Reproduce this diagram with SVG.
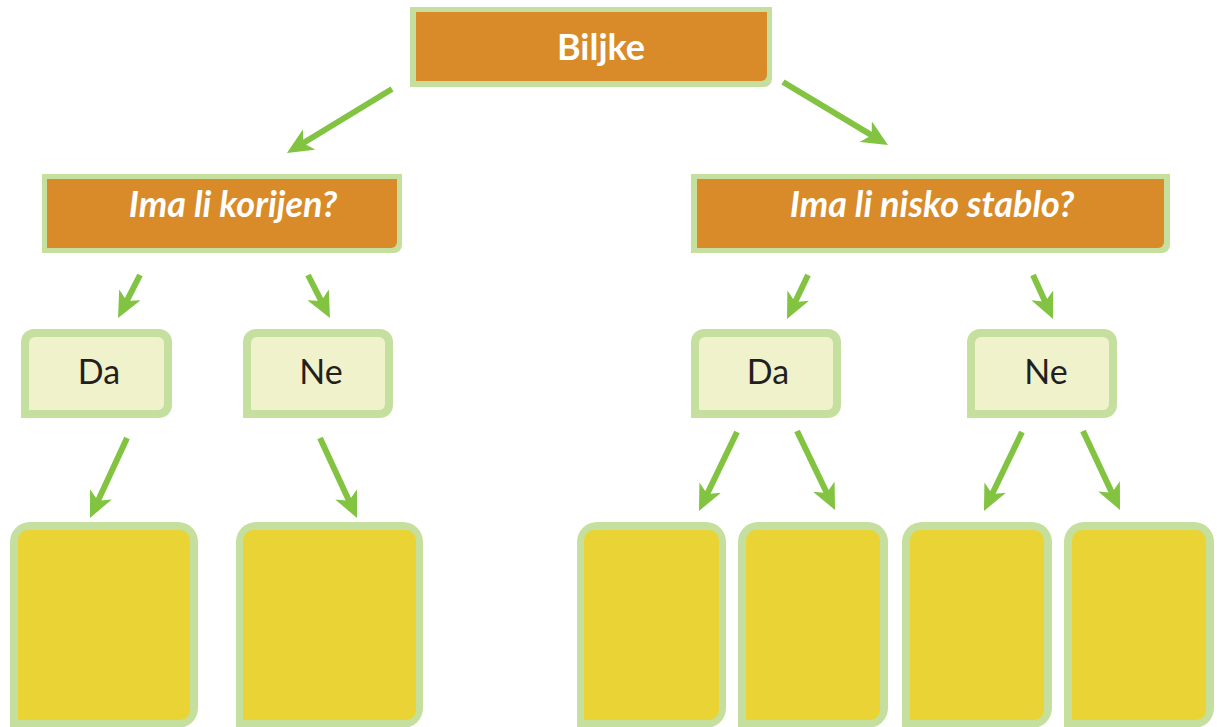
<svg xmlns="http://www.w3.org/2000/svg" width="1217" height="727" viewBox="0 0 1217 727">
<style>
.bd{fill:#c5e09e}
.or{fill:#d88b28}
.pa{fill:#f0f2cb}
.ye{fill:#e9d335}
.tq{font-family:Lato,"Open Sans",sans-serif;font-weight:bold;font-size:36px;fill:#ffffff;text-anchor:middle}
.ta{font-family:Lato,"Open Sans",sans-serif;font-size:34px;fill:#231f20;text-anchor:middle}
.ar{stroke:#82c341;stroke-width:6;fill:none;marker-end:url(#ah)}
</style>
<defs>
<marker id="ah" markerUnits="userSpaceOnUse" markerWidth="26" markerHeight="24" viewBox="0 0 26 24" refX="16" refY="12" orient="auto">
<path d="M0,0 L26,12 L0,24 L7,12 Z" fill="#82c341"/>
</marker>
</defs>
<rect width="1217" height="727" fill="#ffffff"/>
<g id="biljke">
<path class="bd" d="M410,7 H772 V79 A8,8 0 0 1 764,87 H410 Z"/>
<path class="or" d="M416,12 H767 V75 A6,6 0 0 1 761,81 H416 Z"/>
<text class="tq" x="601" y="60">Biljke</text>
</g>
<g id="q-korijen">
<path class="bd" d="M42,174 H402 V245 A8,8 0 0 1 394,253 H42 Z"/>
<path class="or" d="M47,179 H397 V242 A6,6 0 0 1 391,248 H47 Z"/>
<text class="tq" x="233" y="217" font-style="italic">Ima li korijen?</text>
</g>
<g id="q-stablo">
<path class="bd" d="M691,174 H1170 V245 A8,8 0 0 1 1162,253 H691 Z"/>
<path class="or" d="M697,179 H1164 V242 A6,6 0 0 1 1158,248 H697 Z"/>
<text class="tq" x="932" y="217" font-style="italic">Ima li nisko stablo?</text>
</g>
<g id="l-da">
<path class="bd" d="M21,342 A13,13 0 0 1 34,329 H159 A13,13 0 0 1 172,342 V405 A13,13 0 0 1 159,418 H21 Z"/>
<path class="pa" d="M29,343 A6,6 0 0 1 35,337 H158 A6,6 0 0 1 164,343 V404 A6,6 0 0 1 158,410 H29 Z"/>
<text class="ta" x="99" y="384">Da</text>
</g>
<g id="l-ne">
<path class="bd" d="M243,342 A13,13 0 0 1 256,329 H380 A13,13 0 0 1 393,342 V405 A13,13 0 0 1 380,418 H243 Z"/>
<path class="pa" d="M251,343 A6,6 0 0 1 257,337 H379 A6,6 0 0 1 385,343 V404 A6,6 0 0 1 379,410 H251 Z"/>
<text class="ta" x="321" y="384">Ne</text>
</g>
<g id="r-da">
<path class="bd" d="M691,342 A13,13 0 0 1 704,329 H828 A13,13 0 0 1 841,342 V405 A13,13 0 0 1 828,418 H691 Z"/>
<path class="pa" d="M699,343 A6,6 0 0 1 705,337 H827 A6,6 0 0 1 833,343 V404 A6,6 0 0 1 827,410 H699 Z"/>
<text class="ta" x="768" y="384">Da</text>
</g>
<g id="r-ne">
<path class="bd" d="M967,342 A13,13 0 0 1 980,329 H1104 A13,13 0 0 1 1117,342 V405 A13,13 0 0 1 1104,418 H967 Z"/>
<path class="pa" d="M975,343 A6,6 0 0 1 981,337 H1103 A6,6 0 0 1 1109,343 V404 A6,6 0 0 1 1103,410 H975 Z"/>
<text class="ta" x="1046" y="384">Ne</text>
</g>
<g id="y1">
<path class="bd" d="M10,542 A20,20 0 0 1 30,522 H178 A20,20 0 0 1 198,542 V708 A20,20 0 0 1 178,728 H10 Z"/>
<path class="ye" d="M18,540 A10,10 0 0 1 28,530 H180 A10,10 0 0 1 190,540 V710 A10,10 0 0 1 180,720 H18 Z"/>
</g>
<g id="y2">
<path class="bd" d="M236,542 A20,20 0 0 1 256,522 H403 A20,20 0 0 1 423,542 V708 A20,20 0 0 1 403,728 H236 Z"/>
<path class="ye" d="M243,540 A10,10 0 0 1 253,530 H406 A10,10 0 0 1 416,540 V710 A10,10 0 0 1 406,720 H243 Z"/>
</g>
<g id="y3">
<path class="bd" d="M577,542 A20,20 0 0 1 597,522 H706 A20,20 0 0 1 726,542 V708 A20,20 0 0 1 706,728 H577 Z"/>
<path class="ye" d="M584,540 A10,10 0 0 1 594,530 H709 A10,10 0 0 1 719,540 V710 A10,10 0 0 1 709,720 H584 Z"/>
</g>
<g id="y4">
<path class="bd" d="M738,542 A20,20 0 0 1 758,522 H868 A20,20 0 0 1 888,542 V708 A20,20 0 0 1 868,728 H738 Z"/>
<path class="ye" d="M746,540 A10,10 0 0 1 756,530 H870 A10,10 0 0 1 880,540 V710 A10,10 0 0 1 870,720 H746 Z"/>
</g>
<g id="y5">
<path class="bd" d="M902,542 A20,20 0 0 1 922,522 H1032 A20,20 0 0 1 1052,542 V708 A20,20 0 0 1 1032,728 H902 Z"/>
<path class="ye" d="M910,540 A10,10 0 0 1 920,530 H1034 A10,10 0 0 1 1044,540 V710 A10,10 0 0 1 1034,720 H910 Z"/>
</g>
<g id="y6">
<path class="bd" d="M1064,542 A20,20 0 0 1 1084,522 H1194 A20,20 0 0 1 1214,542 V708 A20,20 0 0 1 1194,728 H1064 Z"/>
<path class="ye" d="M1072,540 A10,10 0 0 1 1082,530 H1196 A10,10 0 0 1 1206,540 V710 A10,10 0 0 1 1196,720 H1072 Z"/>
</g>
<g id="connectors">
<line class="ar" x1="392" y1="89" x2="295.5" y2="147.8"/>
<line class="ar" x1="783" y1="82" x2="879.4" y2="139.9"/>
<line class="ar" x1="140" y1="275" x2="122.6" y2="309.1"/>
<line class="ar" x1="308" y1="275" x2="325.4" y2="309.1"/>
<line class="ar" x1="808" y1="275" x2="791.3" y2="310"/>
<line class="ar" x1="1033" y1="275" x2="1048.9" y2="309.9"/>
<line class="ar" x1="127" y1="438" x2="94.2" y2="508.9"/>
<line class="ar" x1="320" y1="438" x2="352.8" y2="508.9"/>
<line class="ar" x1="737" y1="432" x2="703.3" y2="502"/>
<line class="ar" x1="797" y1="431" x2="830.7" y2="501"/>
<line class="ar" x1="1022" y1="432" x2="988.3" y2="502"/>
<line class="ar" x1="1083" y1="431" x2="1115.8" y2="500.9"/>
</g>
</svg>
